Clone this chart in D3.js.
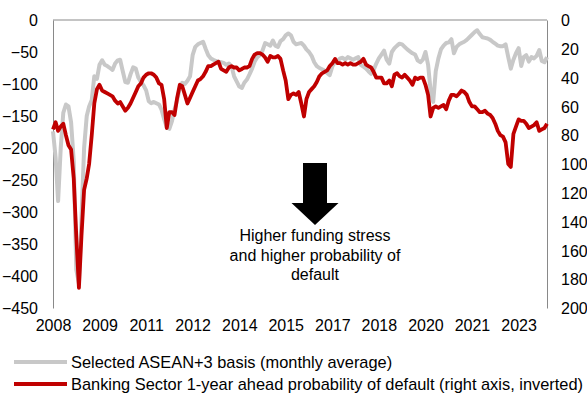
<!DOCTYPE html>
<html><head><meta charset="utf-8">
<script src="https://cdn.jsdelivr.net/npm/d3@7"></script>
<style>
html,body{margin:0;padding:0;background:#fff;overflow:hidden}
text{font-family:"Liberation Sans",Arial,sans-serif;fill:#000}
</style></head>
<body><svg id="chart" width="587" height="401"></svg>
<script>
// ---- data ----
const startMonth = "2008-01";
const basis = [
-174,-215,-283,-200,-145,-132,-135,-160,-220,-390,-412,-310,-200,-150,-135,-125,-88,-92,-70,-63,
-70,-72,-75,-78,-68,-63,-62,-80,-97,-98,
-85,-74,-76,-90,-97,-102,-110,-127,-130,-128,
-130,-132,-140,-155,-168,-170,-158,-140,-125,-106,
-98,-100,-95,-88,-55,-42,-38,-36,-34,-45,
-55,-60,-62,-64,-65,-66,-67,-70,-68,-72,
-88,-96,-104,-106,-98,-93,-85,-76,-65,-58,
-55,-48,-36,-38,-40,-32,-40,-42,-33,-30,
-24,-21,-24,-34,-38,-37,-36,-40,-46,-50,
-56,-66,-72,-75,-77,-79,-83,-86,-72,-66,
-64,-60,-59,-62,-58,-60,-62,-60,-58,-70,
-73,-76,-80,-84,-78,-68,-60,-54,-48,-62,
-68,-50,-44,-40,-37,-38,-42,-46,-49,-52,
-54,-63,-66,-62,-50,-70,-110,-128,-80,-60,
-46,-40,-36,-35,-30,-52,-42,-38,-36,-34,
-31,-27,-23,-19,-16,-22,-27,-28,-29,-31,
-34,-37,-40,-41,-41,-38,-58,-76,-62,-52,
-44,-72,-58,-55,-65,-58,-60,-56,-47,-64,
-66,-58];
const pd = [
76,71,77,74,72,80,87,90,110,150,
186,150,118,110,100,80,58,48,45,49,
50,51,52,53,56,58,57,60,63,61,
58,54,50,46,44,40,38,37,37,38,
40,44,45,55,75,64,64,66,54,45,
46,52,58,54,50,46,42,41,39,36,
32,32,31,30,29,34,35,36,33,32,
33,33,35,34,33,33,32,27,24,23,
23,24,26,29,25,26,26,25,27,35,
42,55,52,51,52,50,58,67,55,50,
48,46,43,39,37,36,35,32,30,27,
30,30,31,30,31,30,31,31,30,29,
27,31,32,33,36,40,40,40,44,44,
42,46,38,37,39,40,38,40,42,45,
40,41,40,40,45,52,67,61,60,61,
60,59,62,56,52,52,53,51,49,50,
52,57,60,60,62,64,64,63,65,66,
68,72,77,80,81,85,100,102,79,74,
69,70,70,72,75,74,73,71,77,76,
75,72];
const leftTicks = [0,-50,-100,-150,-200,-250,-300,-350,-400,-450];
const rightTicks = [0,20,40,60,80,100,120,140,160,180,200];
const xTickMonths = ["2008-01","2009-07","2011-01","2012-07","2014-01","2015-07","2017-01","2018-07","2020-01","2021-07","2023-01"];
const legendLabels = ["Selected ASEAN+3 basis (monthly average)","Banking Sector 1-year ahead probability of default (right axis, inverted)"];
const annotationLines = ["Higher funding stress","and higher probability of","default"];

// ---- build ----
const parse = d3.timeParse("%Y-%m");
const t0 = parse(startMonth);
const dates = basis.map((_, i) => d3.timeMonth.offset(t0, i));

const L = 53, R = 547, T = 20, B = 308;
const svg = d3.select("#chart");
const x = d3.scaleTime().domain([dates[0], dates[dates.length - 1]]).range([L, R]);
const yL = d3.scaleLinear().domain([-450, 0]).range([B, T]);
const yR = d3.scaleLinear().domain([0, 200]).range([T, B]);

const axisCol = "#898989";
// frame
svg.append("line").attr("x1", L).attr("x2", R).attr("y1", T).attr("y2", T).attr("stroke", axisCol).attr("stroke-width", 1);

const gL = svg.append("g").attr("transform", `translate(${L},0)`)
  .call(d3.axisLeft(yL).tickValues(leftTicks).tickSize(0).tickPadding(15).tickFormat(d3.format("d")));
const gR = svg.append("g").attr("transform", `translate(${R},0)`)
  .call(d3.axisRight(yR).tickValues(rightTicks).tickSize(0).tickPadding(14).tickFormat(d3.format("d")));
const gX = svg.append("g").attr("transform", `translate(0,${B})`)
  .call(d3.axisBottom(x).tickValues(xTickMonths.map(parse)).tickSize(0).tickPadding(12).tickFormat(d3.timeFormat("%Y")));
[gL, gR, gX].forEach(g => {
  g.selectAll("text").style("font-size", "16px").style("font-family", '"Liberation Sans",Arial,sans-serif').attr("fill", "#000");
  g.select(".domain").attr("stroke", axisCol);
});
gX.select(".domain").remove();
gL.selectAll("text").attr("dy", "0.35em");
gR.selectAll("text").attr("dy", "0.35em");

// lines
const lineL = d3.line().x((d, i) => x(dates[i])).y(d => yL(d));
const lineR = d3.line().x((d, i) => x(dates[i])).y(d => yR(d));
svg.append("path").datum(basis).attr("d", lineL).attr("fill", "none")
  .attr("stroke", "#c8c8c8").attr("stroke-width", 4).attr("stroke-linejoin", "round");
svg.append("path").datum(pd).attr("d", lineR).attr("fill", "none")
  .attr("stroke", "#c00000").attr("stroke-width", 3.8).attr("stroke-linejoin", "round");

// annotation arrow
const ax = 315;
svg.append("rect").attr("x", ax - 12).attr("y", 163).attr("width", 24).attr("height", 41).attr("fill", "#000");
svg.append("path").attr("d", `M${ax - 23.5},203 L${ax + 23.5},203 L${ax},225 Z`).attr("fill", "#000");
svg.append("text").attr("x", ax).attr("y", 241).attr("text-anchor", "middle").style("font-size", "16px")
  .selectAll("tspan").data(annotationLines).join("tspan")
  .attr("x", ax).attr("dy", (d, i) => i === 0 ? 0 : 19.5).text(d => d);

// legend
const legCols = ["#c8c8c8", "#c00000"];
const legY = [362, 384];
legendLabels.forEach((lab, i) => {
  svg.append("line").attr("x1", 14).attr("x2", 67).attr("y1", legY[i]).attr("y2", legY[i])
    .attr("stroke", legCols[i]).attr("stroke-width", 4);
  svg.append("text").attr("x", 71).attr("y", legY[i]).attr("dy", "0.35em").style("font-size", "16.4px").text(lab);
});
</script></body></html>
